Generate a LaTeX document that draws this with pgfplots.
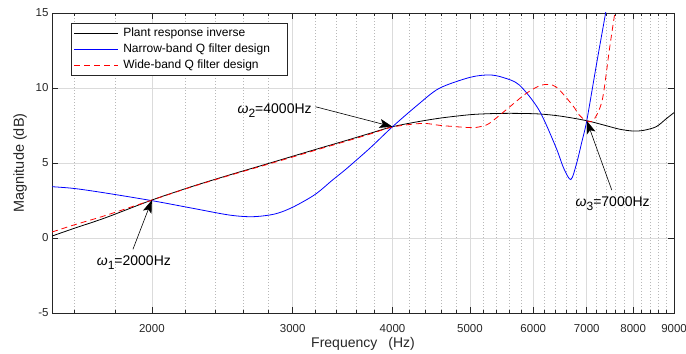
\documentclass[border=0pt]{standalone}
\usepackage{pgfplots}
\pgfplotsset{compat=1.18}
\usepackage{fontspec}
\setmainfont{Liberation Sans}
\usetikzlibrary{arrows.meta}
\newcommand{\om}[1]{{\itshape ω}\raisebox{-4.5bp}{\fontsize{12bp}{12bp}\selectfont #1}}
\definecolor{mblack}{RGB}{0,0,0}
\definecolor{mblue}{RGB}{0,0,255}
\definecolor{mred}{RGB}{255,0,0}
\begin{document}
\begin{tikzpicture}
\path[use as bounding box] (-52bp,-41bp) rectangle (634bp,313bp);
\begin{axis}[
  at={(0bp,0bp)}, anchor=south west,
  scale only axis, width=622bp, height=300bp,
  xmode=log, xmin=1500, xmax=9000, ymin=-5, ymax=15,
  xtick={2000,3000,4000,5000,6000,7000,8000,9000},
  xticklabels={2000,3000,4000,5000,6000,7000,8000,9000},
  minor xtick={1600,1800,2200,2400,2600,2800,3200,3400,3600,3800,4200,4400,4600,4800,5200,5400,5600,5800,6200,6400,6600,6800,7200,7400,7600,7800,8200,8400,8600,8800},
  ytick={-5,0,5,10,15},
  tick align=inside, tick pos=both,
  major tick length=6bp, minor tick length=3.5bp,
  every tick/.style={black!85, line width=0.6bp},
  axis line style={black!85, line width=0.6bp},
  grid=both,
  major grid style={black!14, line width=0.6bp},
  minor grid style={black!28, line width=0.6bp, dash pattern=on 0.8bp off 2.2bp},
  /pgf/number format/assume math mode=true,
  tick label style={font=\fontsize{11.5bp}{13bp}\selectfont, text=black!85},
  xticklabel style={yshift=-7.5bp},
  xlabel={Frequency\hspace{11bp}(Hz)},
  ylabel={Magnitude (dB)},
  every axis x label/.style={at={(rel axis cs:0.5,0)}, anchor=north, yshift=-24bp, inner sep=0pt, font=\fontsize{14bp}{16bp}\selectfont, text=black!85},
  every axis y label/.style={at={(rel axis cs:0,0.5)}, xshift=-25bp, rotate=90, anchor=south, inner sep=0pt, font=\fontsize{14.5bp}{16bp}\selectfont, text=black!85},
  legend style={at={(rel axis cs:0.03,0.967)}, anchor=north west, draw=black!85, line width=0.6bp, fill=white,
    font=\fontsize{12bp}{14bp}\selectfont, inner xsep=3bp, inner ysep=2bp, row sep=0bp,
    nodes={inner sep=1.5bp, text height=9.5bp, text depth=3.5bp}},
  legend cell align=left,
]
\addlegendimage{legend image code/.code={\draw[mblack, line width=0.8bp] (0bp,0bp) -- (44bp,0bp);}}
\addlegendentry{\makebox[163bp][l]{\hspace*{3bp}Plant response inverse}}
\addlegendimage{legend image code/.code={\draw[mblue, line width=0.8bp] (0bp,0bp) -- (44bp,0bp);}}
\addlegendentry{\makebox[163bp][l]{\hspace*{3bp}Narrow-band Q filter design}}
\addlegendimage{legend image code/.code={\draw[mred, line width=0.8bp, dash pattern=on 6bp off 4bp] (0bp,0bp) -- (44bp,0bp);}}
\addlegendentry{\makebox[163bp][l]{\hspace*{3bp}Wide-band Q filter design}}
\addplot[draw=mblack, line width=0.8bp, smooth, forget plot] coordinates {
(1500,0.13)(1600,0.65)(1750,1.35)(2000,2.53)(2250,3.45)(2500,4.2)(2750,4.85)(3000,5.45)(3250,6.0)(3500,6.5)(3750,6.98)(4000,7.42)(4300,7.75)(4600,8.0)(5000,8.22)(5300,8.29)(5650,8.31)(6100,8.27)(6500,8.12)(7000,7.82)(7400,7.49)(7700,7.25)(8000,7.13)(8250,7.18)(8550,7.42)(8800,7.95)(9000,8.36)
};
\addplot[draw=mblue, line width=0.8bp, smooth, forget plot] coordinates {
(1500,3.42)(1600,3.3)(1750,3.0)(2000,2.49)(2250,1.98)(2500,1.53)(2674,1.42)(2850,1.6)(3000,2.05)(3200,2.9)(3366,3.87)(3500,4.6)(3750,6.0)(4000,7.42)(4300,8.87)(4577,9.98)(5000,10.71)(5286,10.87)(5500,10.7)(5764,10.2)(6100,8.53)(6400,6.09)(6550,4.65)(6686,3.9)(6800,5.0)(6900,6.4)(7000,7.82)(7200,11.6)(7390,15.0)(7500,17)
};
\addplot[draw=mred, line width=0.8bp, dash pattern=on 6bp off 4bp, smooth, forget plot] coordinates {
(1500,0.4)(1600,0.88)(1750,1.5)(2000,2.53)(2250,3.43)(2500,4.17)(2750,4.81)(3000,5.4)(3250,5.95)(3500,6.45)(3750,6.93)(4000,7.4)(4360,7.64)(4600,7.5)(5000,7.36)(5150,7.42)(5286,7.64)(5545,8.53)(5880,9.64)(6152,10.2)(6400,10.09)(6714,8.87)(6850,8.2)(7000,7.8)(7140,7.87)(7320,9.2)(7470,12.53)(7590,15)(7700,17)
};

\draw[black, line width=0.6bp, -{Stealth[length=13bp,width=9bp,inset=3bp]}] (axis cs:1894,-0.75) -- (axis cs:2000,2.53);
\node[anchor=base west, inner sep=0pt, font=\fontsize{14bp}{16bp}\selectfont] at (axis cs:1706,-1.8) {\om{1}=2000Hz};
\draw[black, line width=0.6bp, -{Stealth[length=13bp,width=9bp,inset=3bp]}] (axis cs:3204,8.75) -- (axis cs:4000,7.42);
\node[anchor=base west, inner sep=0pt, font=\fontsize{14bp}{16bp}\selectfont] at (axis cs:2559,8.33) {\om{2}=4000Hz};
\draw[black, line width=0.6bp, -{Stealth[length=13bp,width=9bp,inset=3bp]}] (axis cs:7523,3.2) -- (axis cs:7000,7.82);
\node[anchor=base west, inner sep=0pt, font=\fontsize{14bp}{16bp}\selectfont] at (axis cs:6776,2.13) {\om{3}=7000Hz};
\end{axis}
\end{tikzpicture}
\end{document}
